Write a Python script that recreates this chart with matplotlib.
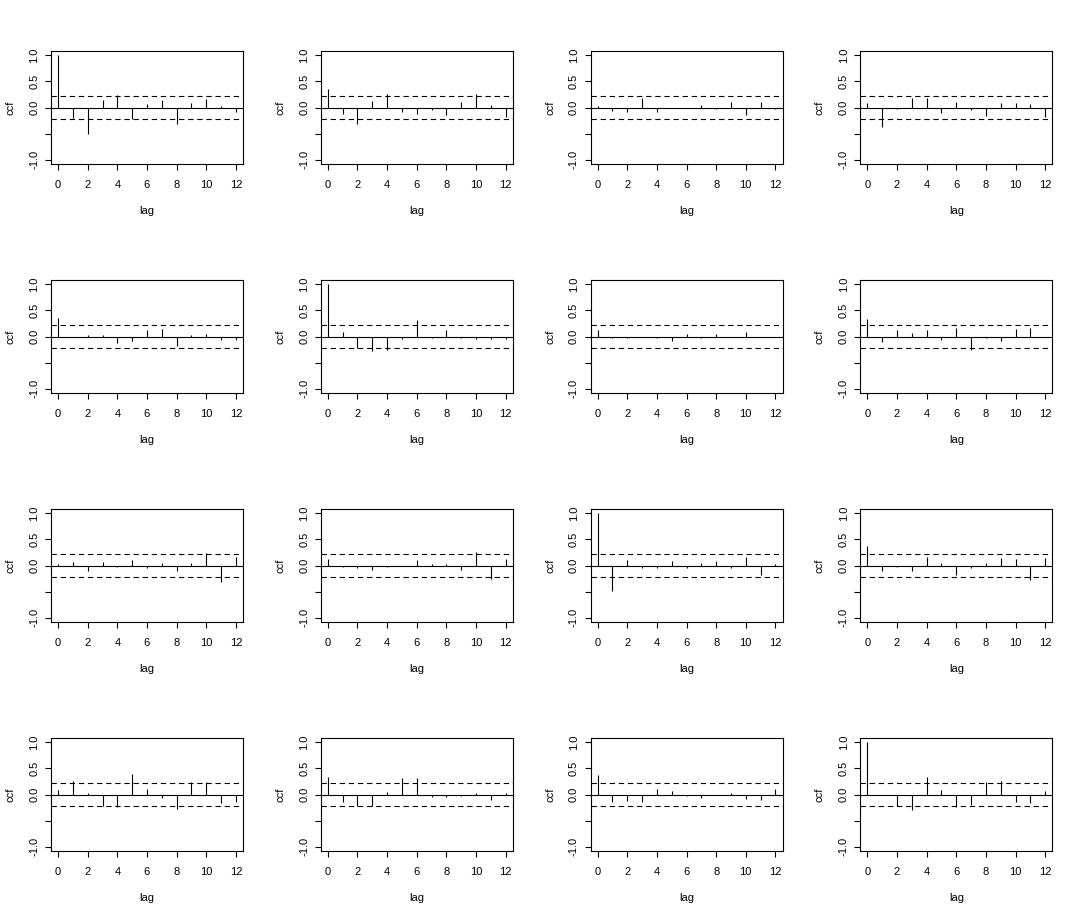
import matplotlib
matplotlib.use("Agg")
import matplotlib.pyplot as plt

plt.rcParams["font.family"] = ["Liberation Sans", "DejaVu Sans"]

# lags shown in every panel
lags = list(range(13))

# approximate 95% band, same in every panel
ci = 0.222

# ccf values, row by row
ccf_01 = [1.00, -0.21, -0.50, 0.14, 0.23, -0.22, 0.06, 0.14, -0.31, 0.08, 0.16, 0.02, -0.09]
ccf_02 = [0.35, -0.13, -0.31, 0.12, 0.25, -0.09, -0.13, -0.05, -0.15, 0.10, 0.26, 0.04, -0.19]
ccf_03 = [0.03, -0.06, -0.08, 0.19, -0.08, 0.00, 0.00, 0.04, -0.03, 0.10, -0.15, 0.10, -0.03]
ccf_04 = [0.08, -0.38, -0.03, 0.19, 0.19, -0.10, 0.10, -0.05, -0.17, 0.08, 0.08, 0.06, -0.19]

ccf_05 = [0.35, 0.00, 0.02, 0.02, -0.12, -0.08, 0.12, 0.15, -0.19, 0.03, 0.04, -0.07, -0.07]
ccf_06 = [1.00, 0.09, -0.22, -0.28, -0.25, -0.05, 0.32, -0.03, 0.12, -0.03, -0.05, -0.05, -0.05]
ccf_07 = [0.12, -0.03, -0.03, 0.00, -0.03, -0.09, 0.04, -0.03, 0.04, 0.00, 0.08, 0.00, 0.00]
ccf_08 = [0.33, -0.11, 0.13, 0.06, 0.13, -0.07, 0.16, -0.26, -0.03, -0.09, 0.14, 0.16, 0.00]

ccf_09 = [0.02, 0.06, -0.10, 0.06, -0.03, 0.11, -0.05, 0.04, -0.10, 0.04, 0.24, -0.31, 0.16]
ccf_10 = [0.12, -0.03, -0.04, -0.09, -0.03, 0.00, 0.11, 0.02, 0.02, -0.09, 0.26, -0.26, 0.13]
ccf_11 = [1.00, -0.49, 0.11, -0.05, -0.05, 0.09, -0.05, 0.04, 0.08, -0.05, 0.16, -0.19, 0.03]
ccf_12 = [0.38, -0.10, -0.03, -0.10, 0.16, 0.05, -0.19, -0.05, 0.05, 0.14, 0.13, -0.28, 0.15]

ccf_13 = [0.09, 0.25, 0.03, -0.22, -0.24, 0.40, 0.11, -0.07, -0.28, 0.24, 0.24, -0.17, -0.15]
ccf_14 = [0.34, -0.14, -0.22, -0.22, 0.04, 0.32, 0.32, -0.05, -0.05, -0.03, 0.03, -0.10, 0.03]
ccf_15 = [0.37, -0.14, -0.13, -0.14, 0.10, 0.06, -0.03, -0.06, 0.00, 0.03, -0.08, -0.10, 0.10]
ccf_16 = [1.00, 0.00, -0.22, -0.29, 0.33, 0.08, -0.23, -0.20, 0.24, 0.26, -0.15, -0.17, 0.06]

panels = [ccf_01, ccf_02, ccf_03, ccf_04,
          ccf_05, ccf_06, ccf_07, ccf_08,
          ccf_09, ccf_10, ccf_11, ccf_12,
          ccf_13, ccf_14, ccf_15, ccf_16]

W, H = 1079, 916
fig = plt.figure(figsize=(W / 100, H / 100), dpi=100)

cell_w = W / 4
cell_h = 229
box_w, box_h = 192, 113
dash = (0, (4.8, 3.4))

for k, vals in enumerate(panels):
    row, col = divmod(k, 4)
    left = (col * cell_w + 51) / W
    bottom = 1 - (row * cell_h + 51 + box_h) / H
    ax = fig.add_axes([left, bottom, box_w / W, box_h / H])

    ax.vlines(lags, 0, vals, color="black", lw=0.8)
    ax.axhline(0, color="black", lw=0.8)
    ax.axhline(ci, color="black", lw=0.8, ls=dash)
    ax.axhline(-ci, color="black", lw=0.8, ls=dash)

    ax.set_xlim(-0.48, 12.48)
    ax.set_ylim(-1.08, 1.08)
    ax.set_xticks(range(0, 13, 2))
    ax.set_yticks([-1.0, -0.5, 0.0, 0.5, 1.0])
    ax.set_yticklabels(["-1.0", "", "0.0", "0.5", "1.0"], rotation=90, va="center")
    ax.tick_params(axis="both", labelsize=8, length=4.3, width=0.8, direction="out")
    ax.tick_params(axis="x", pad=7)
    ax.tick_params(axis="y", pad=4)
    for sp in ax.spines.values():
        sp.set_linewidth(0.8)

    ax.set_xlabel("lag", fontsize=8)
    ax.set_ylabel("ccf", fontsize=8)
    ax.xaxis.set_label_coords(0.5, -0.37)
    ax.yaxis.set_label_coords(-0.184, 0.5)

fig.savefig("out.png", dpi=100)
